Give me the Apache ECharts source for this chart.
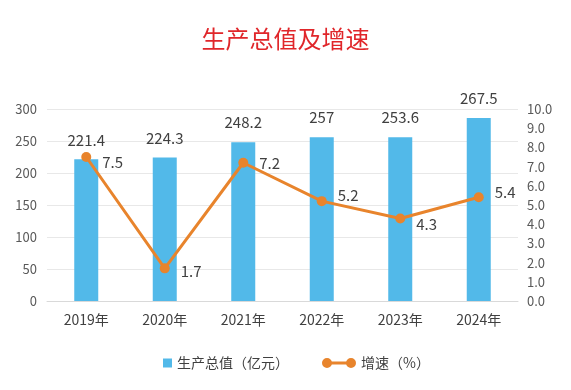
<!DOCTYPE html>
<html><head><meta charset="utf-8">
<script src="https://cdn.jsdelivr.net/npm/echarts@6/dist/echarts.min.js"></script>
<style>html,body{margin:0;padding:0;background:#fff}#c{width:571px;height:390px}</style>
</head><body><div id="c"></div>
<script>
var categories = ['2019年','2020年','2021年','2022年','2023年','2024年'];
// bar heights as drawn in the picture
var barHeights = [221.4, 224.3, 248.2, 256, 256, 286];
// value labels printed above the bars
var barLabels = ['221.4', '224.3', '248.2', '257', '253.6', '267.5'];
var growth = [7.5, 1.7, 7.2, 5.2, 4.3, 5.4];
var leftTicks = [0, 50, 100, 150, 200, 250, 300];

var font = 'Noto Sans CJK SC';
var lineLabelDy = [5, 3, 1, -6, 6, -5];
var chart = echarts.init(document.getElementById('c'));
chart.setOption({
  backgroundColor: '#fff',
  textStyle: {fontFamily: font},
  title: {text: '生产总值及增速', left: 'center', top: 22,
    textStyle: {color: '#E0262A', fontSize: 24, fontWeight: 'normal', fontFamily: font}},
  grid: {left: 47, right: 53, top: 109, bottom: 89},
  legend: [{
    data: ['生产总值（亿元）'], left: 158, top: 351, icon: 'rect', itemWidth: 9, itemHeight: 9, itemGap: 6,
    textStyle: {color: '#404040', fontSize: 14, fontFamily: font}
  }, {
    data: [{name: '增速（%）',
      icon: 'path://M0,5 A5,5 0 1,1 10,5 A5,5 0 1,1 0,5 Z M24,5 A5,5 0 1,1 34,5 A5,5 0 1,1 24,5 Z M9,3.4 L25,3.4 L25,6.6 L9,6.6 Z',
      itemStyle: {color: '#E8842C', borderWidth: 0, borderColor: '#E8842C'}}],
    left: 317, top: 351, itemWidth: 34, itemHeight: 10, itemGap: 8,
    itemStyle: {color: '#E8842C', borderWidth: 0},
    textStyle: {color: '#404040', fontSize: 14, fontFamily: font}
  }],
  xAxis: {type: 'category', data: categories,
    axisLine: {lineStyle: {color: '#d9d9d9'}}, axisTick: {show: false},
    axisLabel: {color: '#404040', fontSize: 14, margin: 12, fontFamily: font}},
  yAxis: [{
    type: 'value', min: 0, max: 300, interval: 50,
    axisLine: {show: false}, axisTick: {show: false},
    splitLine: {lineStyle: {color: '#e8e8e8'}},
    axisLabel: {color: '#595959', fontSize: 13, margin: 10, fontFamily: font,
      formatter: function (v) { return leftTicks.indexOf(v) >= 0 ? String(v) : ''; }}
  }, {
    type: 'value', min: 0, max: 10, interval: 1,
    axisLine: {show: false}, axisTick: {show: false}, splitLine: {show: false},
    axisLabel: {color: '#595959', fontSize: 13, margin: 9, fontFamily: font,
      formatter: function (v) { return v.toFixed(1); }}
  }],
  series: [{
    name: '生产总值（亿元）', type: 'bar', data: barHeights, barWidth: 24,
    itemStyle: {color: '#52B9E9'},
    label: {show: true, position: 'top', distance: 12, color: '#404040', fontSize: 15, fontFamily: font,
      formatter: function (p) { return barLabels[p.dataIndex]; }}
  }, {
    name: '增速（%）', type: 'line', yAxisIndex: 1,
    data: growth.map(function (v, i) { return {value: v, label: {offset: [2, lineLabelDy[i]]}}; }),
    symbol: 'circle', symbolSize: 10,
    lineStyle: {color: '#E8842C', width: 3}, itemStyle: {color: '#E8842C'},
    label: {show: true, position: 'right', distance: 9, color: '#404040', fontSize: 15, fontFamily: font,
      formatter: function (p) { return p.value.toFixed(1); }}
  }]
});
</script></body></html>
